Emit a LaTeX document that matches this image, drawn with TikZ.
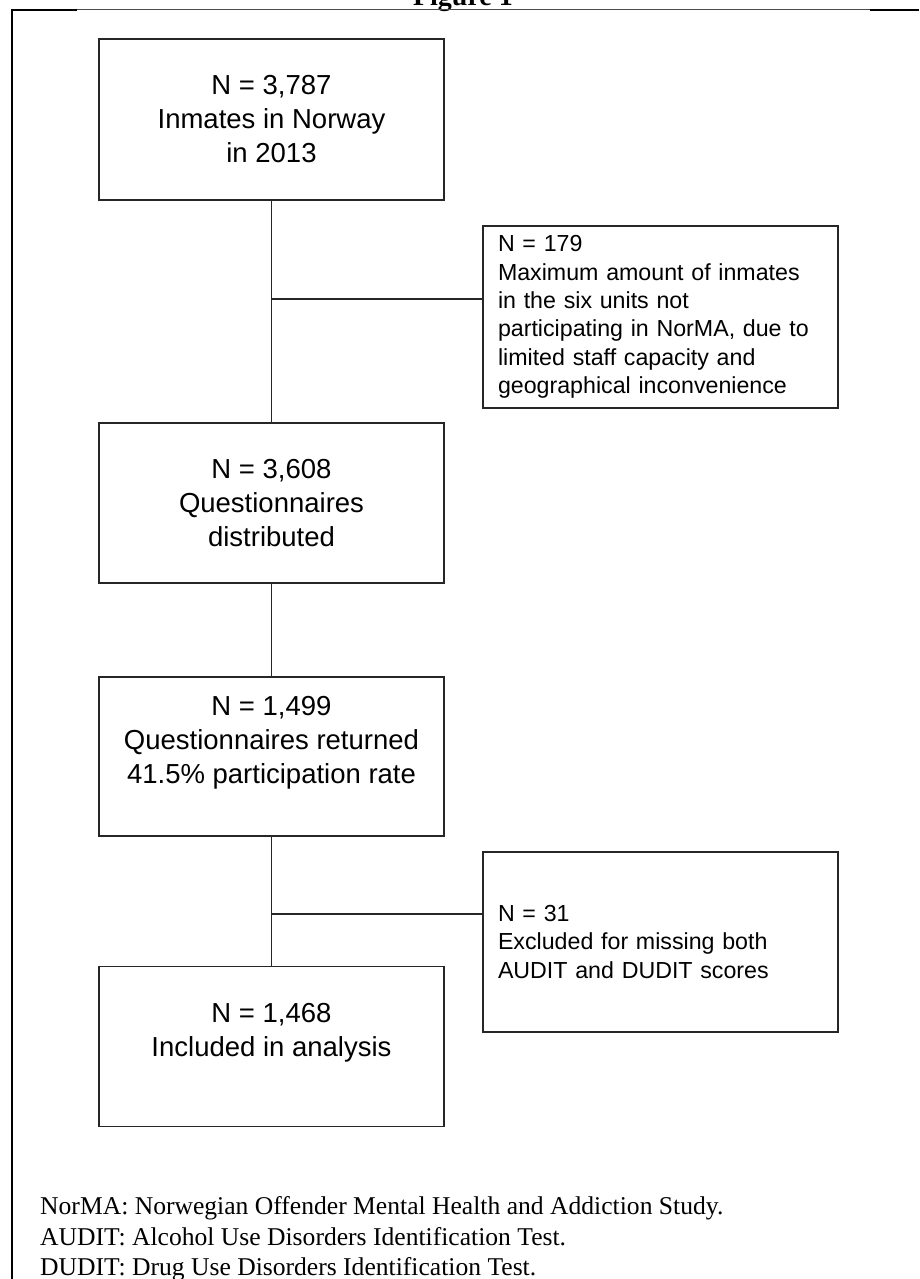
\documentclass[tikz,border=0pt]{standalone}
\usepackage{fontspec}
\setmainfont{Liberation Serif}
\newfontfamily\arialfont{Liberation Sans}

\begin{document}
\begin{tikzpicture}[x=1pt,y=-1pt,
	stage/.style={draw=black!85,line width=1.3pt,minimum width=345pt,minimum height=160pt,inner sep=0pt,align=center,font=\arialfont\fontsize{27.5}{34}\selectfont},
	aside/.style={draw=black!85,line width=1.3pt,text width=325pt,inner xsep=15pt,inner ysep=0pt,align=left,font=\arialfont\fontsize{23.2}{28.3}\selectfont},
	link/.style={black!85,line width=1.3pt},
	note/.style={anchor=base west,inner sep=0pt,font=\fontsize{25.6}{30}\selectfont}]
			\useasboundingbox (0,0) rectangle (919,1279);
			\node[anchor=base,font=\bfseries\fontsize{28}{30}\selectfont] (title) at (463,5.5) {Figure 1};
			\draw[black!70,line width=.9pt] (77,9.5) -- (870,9.5);
			\draw[line width=2.5pt] (870,10) -- (919,10);
			\draw[line width=2.5pt] (77,10) -- (12,10) -- (12,1279);
			
			\node[stage,minimum height=161pt] (inmates) at (271.5,119.5) {N = 3,787\\Inmates in Norway\\in 2013};
			\node[aside,minimum height=182pt] (units) at (660.5,317) {N = 179\\Maximum amount of inmates\\in the six units not\\participating in NorMA, due to\\limited staff capacity and\\geographical inconvenience};
			\node[stage] (distributed) at (271.5,503) {N = 3,608\\Questionnaires\\distributed};
			\node[stage,minimum height=159pt] (returned) at (271.5,756.5) {N = 1,499\\Questionnaires returned\\41.5\% participation rate\\~};
			\node[aside,minimum height=180pt] (missing) at (660.5,942) {N = 31\\Excluded for missing both\\AUDIT and DUDIT scores};
			\node[stage] (analysis) at (271.5,1046.5) {N = 1,468\\Included in analysis\\~};
			
			\draw[link] (inmates) -- (distributed);
			\draw[link] (distributed) -- (returned);
			\draw[link] (returned) -- (analysis);
			\coordinate (j1) at (271.5,299); \draw[link] (j1) -- (j1 -| units.west);
			\coordinate (j2) at (271.5,914); \draw[link] (j2) -- (j2 -| missing.west);
			
			\node[note] (norma) at (40,1214) {NorMA: Norwegian Offender Mental Health and Addiction Study.};
			\node[note] (audit) at (40,1245) {AUDIT: Alcohol Use Disorders Identification Test.};
			\node[note] (dudit) at (40,1275) {DUDIT: Drug Use Disorders Identification Test.};
			\end{tikzpicture}
\end{document}
